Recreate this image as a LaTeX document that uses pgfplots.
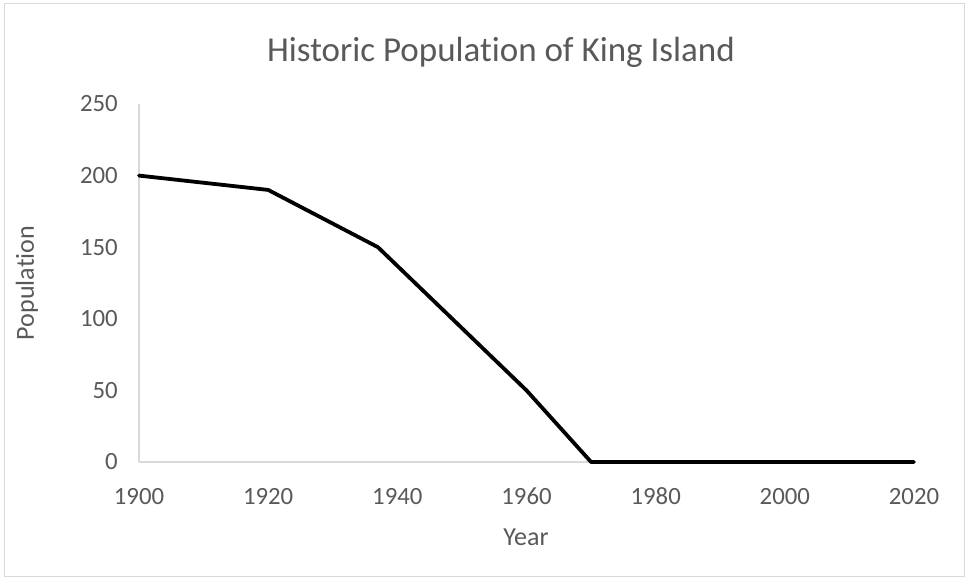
\documentclass[border=0pt]{standalone}
\usepackage{pgfplots}
\pgfplotsset{compat=1.18}
\usepackage{fontspec}
\setmainfont{Carlito}[Ligatures=NoCommon]
\definecolor{txt}{HTML}{595959}
\definecolor{axl}{HTML}{D9D9D9}
\begin{document}
\begin{tikzpicture}[x=1pt,y=1pt]
\useasboundingbox (0,0) rectangle (967,580);
\draw[axl, line width=1pt] (4,3) rectangle (964,576);
% title and axis titles
\node[txt, font=\fontsize{35}{40}\selectfont] at (501,528) {Historic Population of King Island};
\node[txt, font=\fontsize{26}{30}\selectfont] at (526,43) {Year};
\node[txt, font=\fontsize{26}{30}\selectfont, rotate=90] at (27,297) {Population};
\begin{axis}[
    at={(139pt,118pt)}, anchor=south west,
    scale only axis, width=775pt, height=358pt,
    xmin=1900, xmax=2020, ymin=0, ymax=250,
    xtick={1900,1920,...,2020},
    ytick={0,50,...,250},
    axis x line*=bottom, axis y line*=left,
    axis line style={axl, line width=1.2pt, -},
    major tick length=0pt,
    /pgf/number format/assume math mode=true,
    /pgf/number format/1000 sep={},
    ticklabel style={txt, font=\fontsize{24.8}{28}\selectfont, inner sep=0pt},
    xticklabel style={anchor=base, yshift=-43pt},
    yticklabel style={anchor=east, xshift=-21pt},
    clip=false,
]
\addplot[black, line width=3.8pt, line join=round, line cap=round] coordinates {
    (1900,200) (1920,190) (1937,150) (1960,50) (1970,0) (2020,0)
};
\end{axis}
\end{tikzpicture}
\end{document}
